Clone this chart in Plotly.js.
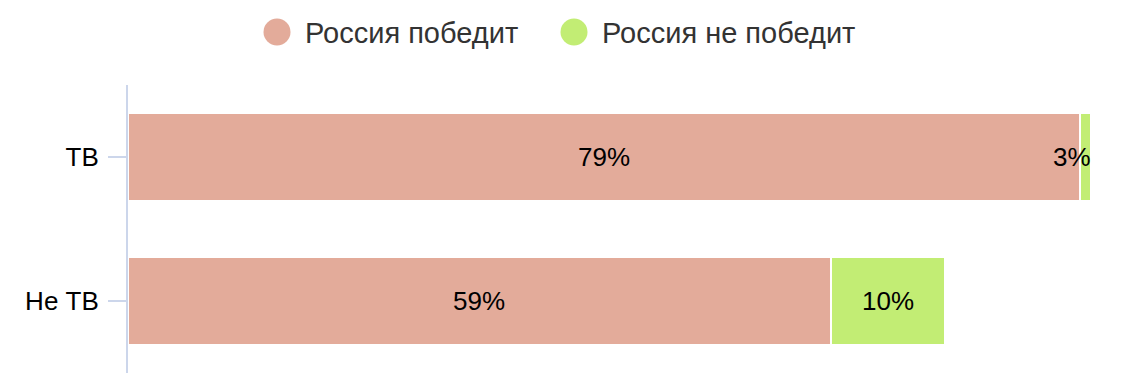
<!DOCTYPE html>
<html><head><meta charset="utf-8">
<script src="https://cdn.plot.ly/plotly-3.0.1.min.js"></script>
<style>html,body{margin:0;padding:0;background:#fff}#chart{width:1124px;height:376px}</style>
</head><body><div id="chart"></div>
<script>
const categories = ['ТВ', 'Не ТВ'];
const seriesNames = ['Россия победит', 'Россия не победит'];
const winValues = [79, 58.3];
const notWinValues = [0.9, 9.5];
const winLabels = ['79%', '59%'];
const notWinLabels = ['3%', '10%'];
const colors = ['#e3ab9a', '#c2ed74'];

const FONT = '"Liberation Sans", Arial, sans-serif';
const W = 1124, H = 376;
const M = {l: 128, r: 20, t: 85, b: 3};
const plotW = W - M.l - M.r, plotH = H - M.t - M.b;
const px2x = p => (p - M.l) / plotW;
const py2y = p => (H - M.b - p) / plotH;

const traces = [
  {type: 'bar', orientation: 'h', y: categories, x: winValues, name: seriesNames[0],
   marker: {color: colors[0], line: {color: '#ffffff', width: 2}}, showlegend: false, hoverinfo: 'none'},
  {type: 'bar', orientation: 'h', y: categories, x: notWinValues, name: seriesNames[1],
   marker: {color: colors[1], line: {color: '#ffffff', width: 2}}, showlegend: false, hoverinfo: 'none'}
];

const annotations = [];
const labelFont = {family: FONT, size: 26, color: '#000000'};
categories.forEach((c, i) => {
  const segs = [[0, winValues[i], winLabels[i]], [winValues[i], notWinValues[i], notWinLabels[i]]];
  segs.forEach(([base, v, t]) => {
    const small = v < 2;
    annotations.push({x: small ? base + v : base + v / 2, y: c, xref: 'x', yref: 'y',
      text: t, showarrow: false, xanchor: small ? 'right' : 'center', yanchor: 'middle',
      font: labelFont, xshift: small ? 2 : 0});
  });
});

const shapes = [];
const legendItems = [{cx: 277, tx: 303}, {cx: 574, tx: 600}];
legendItems.forEach((it, i) => {
  shapes.push({type: 'circle', xref: 'paper', yref: 'paper', xsizemode: 'pixel', ysizemode: 'pixel',
    xanchor: px2x(it.cx), yanchor: py2y(32), x0: -13.5, x1: 13.5, y0: -13.5, y1: 13.5,
    fillcolor: colors[i], line: {width: 0}});
  annotations.push({xref: 'paper', yref: 'paper', x: px2x(it.tx), y: py2y(33),
    xanchor: 'left', yanchor: 'middle', text: seriesNames[i], showarrow: false,
    font: {family: FONT, size: 29, color: '#333333'}});
});

const layout = {
  width: W, height: H, margin: M, barmode: 'stack', bargap: 0.385,
  paper_bgcolor: '#ffffff', plot_bgcolor: '#ffffff', showlegend: false,
  font: {family: FONT},
  xaxis: {range: [0, plotW / 12.05], showgrid: false, zeroline: false, showticklabels: false,
    showline: false, ticks: '', fixedrange: true},
  yaxis: {autorange: 'reversed', showgrid: false, zeroline: false, showline: true,
    linecolor: '#ccd6eb', linewidth: 2, ticks: 'outside', ticklen: 18, tickwidth: 2,
    tickcolor: '#ccd6eb', ticklabelstandoff: 4,
    tickfont: {family: FONT, size: 26, color: '#000000'}},
  annotations: annotations, shapes: shapes
};
Plotly.newPlot('chart', traces, layout, {staticPlot: true, displayModeBar: false});
</script></body></html>
